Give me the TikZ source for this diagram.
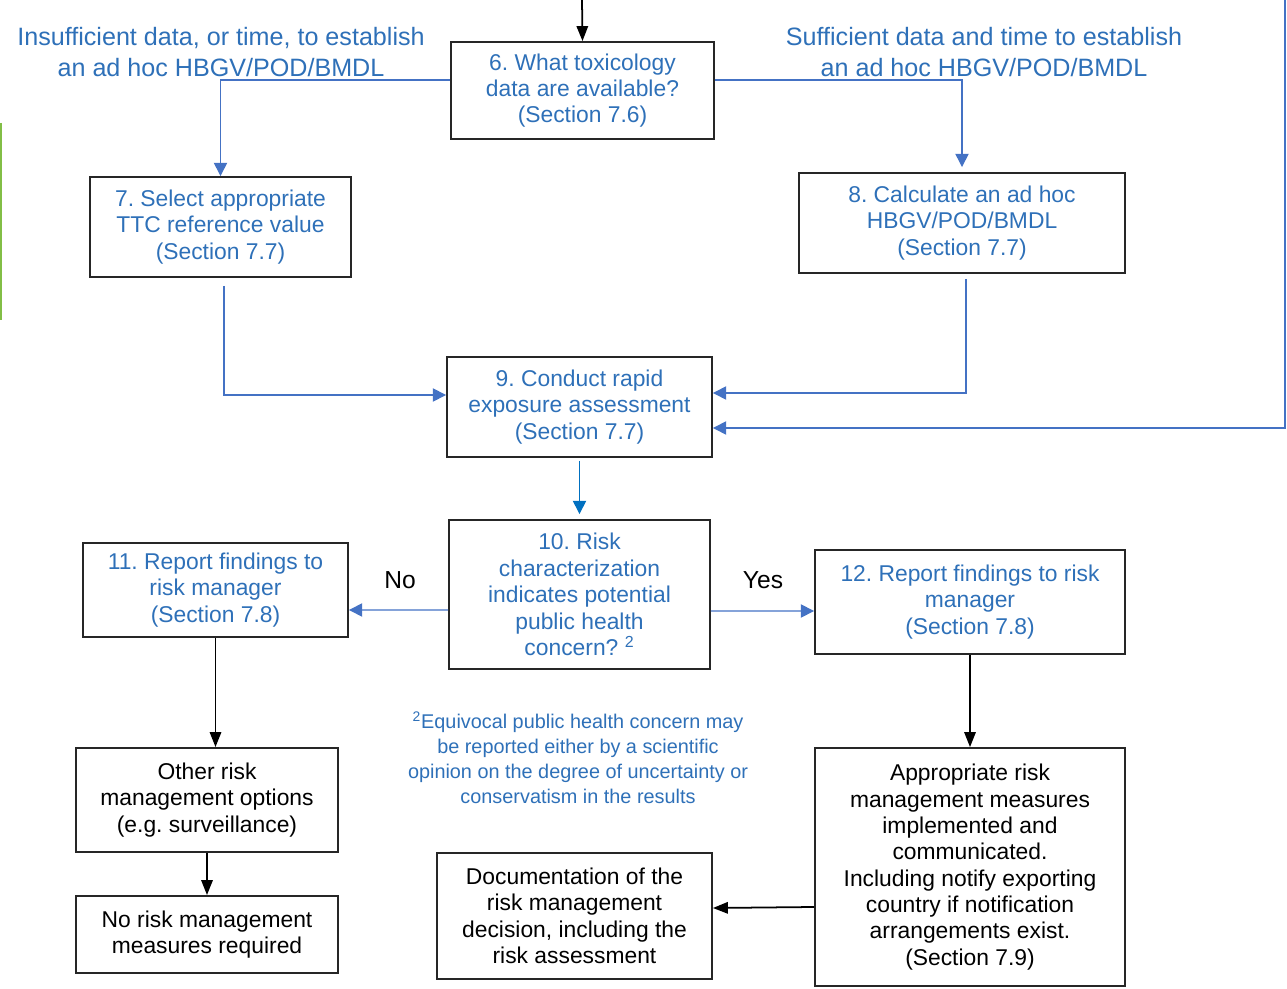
\documentclass[tikz,border=0pt]{standalone}
\usepackage{fontspec}
\setmainfont{Liberation Sans}
\usetikzlibrary{arrows.meta}
\definecolor{txtblue}{RGB}{46,112,184}
\definecolor{lineblue}{RGB}{68,114,196}
\definecolor{darkblue}{RGB}{0,112,192}
\definecolor{bargreen}{RGB}{130,190,70}
\frenchspacing
\tikzset{
	box/.style={draw=black!85, line width=1.1pt, align=center, inner sep=0pt, font=\fontsize{13}{15}\selectfont},
	bluebox/.style={box, text=txtblue},
	bluearrow/.style={draw=lineblue, line width=0.8pt, -{Triangle[length=7.5pt,width=7.5pt]}},
	blackarrow/.style={draw=black, line width=1pt, -{Triangle[length=8.5pt,width=6.5pt]}},
	bluelabel/.style={text=txtblue, align=center, font=\fontsize{14.3}{17.6}\selectfont},
	notelabel/.style={text=txtblue, align=center, font=\fontsize{11.3}{14.2}\selectfont},
	answer/.style={font=\fontsize{14}{17}\selectfont}
}

\begin{document}
\begin{tikzpicture}[x=0.02cm, y=-0.02cm]
	%%%%% START %%%%%
	\useasboundingbox (0,0) rectangle (1287,989);
	
	\draw[bargreen, line width=1.3pt] (1,123) -- (1,320);
	
	\coordinate (topin) at (582,0);
	\coordinate (topright) at (1285,0);
	
	\node[bluelabel] (lowdata) at (221,52) {Insufficient data, or time, to establish\\an ad hoc HBGV/POD/BMDL};
	\node[bluelabel] (highdata) at (984,52) {Sufficient data and time to establish\\an ad hoc HBGV/POD/BMDL};
	
	\node[bluebox, minimum width=5.26cm, minimum height=1.94cm] (b6) at (582.5,90.5) {6. What toxicology\\data are available?\\(Section 7.6)};
	\node[bluebox, minimum width=5.22cm, minimum height=2cm] (b7) at (220.5,227) {7. Select appropriate\\TTC reference value\\(Section 7.7)};
	\node[bluebox, minimum width=6.52cm, minimum height=2cm] (b8) at (962,223) {8. Calculate an ad hoc\\HBGV/POD/BMDL\\(Section 7.7)};
	\node[bluebox, minimum width=5.3cm, minimum height=2cm] (b9) at (579.5,407) {9. Conduct rapid\\exposure assessment\\(Section 7.7)};
	\node[bluebox, minimum width=5.22cm, minimum height=2.98cm] (b10) at (579.5,594.5) {10. Risk\\characterization\\indicates potential\\public health\\concern? \textsuperscript{2}};
	\node[bluebox, minimum width=5.3cm, minimum height=1.88cm] (b11) at (215.5,590) {11. Report findings to\\risk manager\\(Section 7.8)};
	\node[bluebox, minimum width=6.2cm, minimum height=2.08cm] (b12) at (970,602) {12. Report findings to risk\\manager\\(Section 7.8)};
	
	\node[box, minimum width=5.24cm, minimum height=2.08cm] (other) at (207,800) {Other risk\\management options\\(e.g. surveillance)};
	\node[box, minimum width=5.24cm, minimum height=1.54cm] (norisk) at (207,934.5) {No risk management\\measures required};
	\node[box, minimum width=5.5cm, minimum height=2.52cm] (doc) at (574.5,916) {Documentation of the\\risk management\\decision, including the\\risk assessment};
	\node[box, minimum width=6.2cm, minimum height=4.76cm] (approp) at (970,867) {Appropriate risk\\management measures\\implemented and\\communicated.\\Including notify exporting\\country if notification\\arrangements exist.\\(Section 7.9)};
	
	\node[notelabel] (note) at (578,758) {\textsuperscript{2}Equivocal public health concern may\\be reported either by a scientific\\opinion on the degree of uncertainty or\\conservatism in the results};
	\node[answer] (no) at (400,580) {No};
	\node[answer] (yes) at (763,580) {Yes};
	
	\draw[blackarrow] (topin) -- (b6.north);
	\draw[bluearrow] ([yshift=0.21cm]b6.west) -| (b7.north);
	\draw[bluearrow] ([yshift=0.21cm]b6.east) -| ([yshift=0.1cm]b8.north);
	\draw[bluearrow] ([xshift=0.07cm,yshift=-0.16cm]b7.south) |- ([yshift=0.24cm]b9.west);
	\draw[bluearrow] ([xshift=0.08cm,yshift=-0.1cm]b8.south) |- ([yshift=0.28cm]b9.east);
	\draw[bluearrow] (topright) |- ([yshift=-0.42cm]b9.east);
	\draw[bluearrow, draw=darkblue] ([yshift=-0.06cm]b9.south) -- ([yshift=0.1cm]b10.north);
	
	\draw[bluearrow] ([yshift=-0.31cm]b10.west) -- ([yshift=-0.4cm]b11.east);
	\draw[bluearrow] ([yshift=-0.33cm]b10.east) -- ([yshift=-0.18cm]b12.west);
	
	\draw[blackarrow] (b11.south) -- (b11.south |- other.north);
	\draw[blackarrow] (other.south) -- (norisk.north);
	\draw[blackarrow] (b12.south) -- (b12.south |- approp.north);
	\draw[blackarrow] ([yshift=-0.8cm]approp.west) -- ([yshift=0.16cm]doc.east);
	
	%%%%% END %%%%%
\end{tikzpicture}
\end{document}
